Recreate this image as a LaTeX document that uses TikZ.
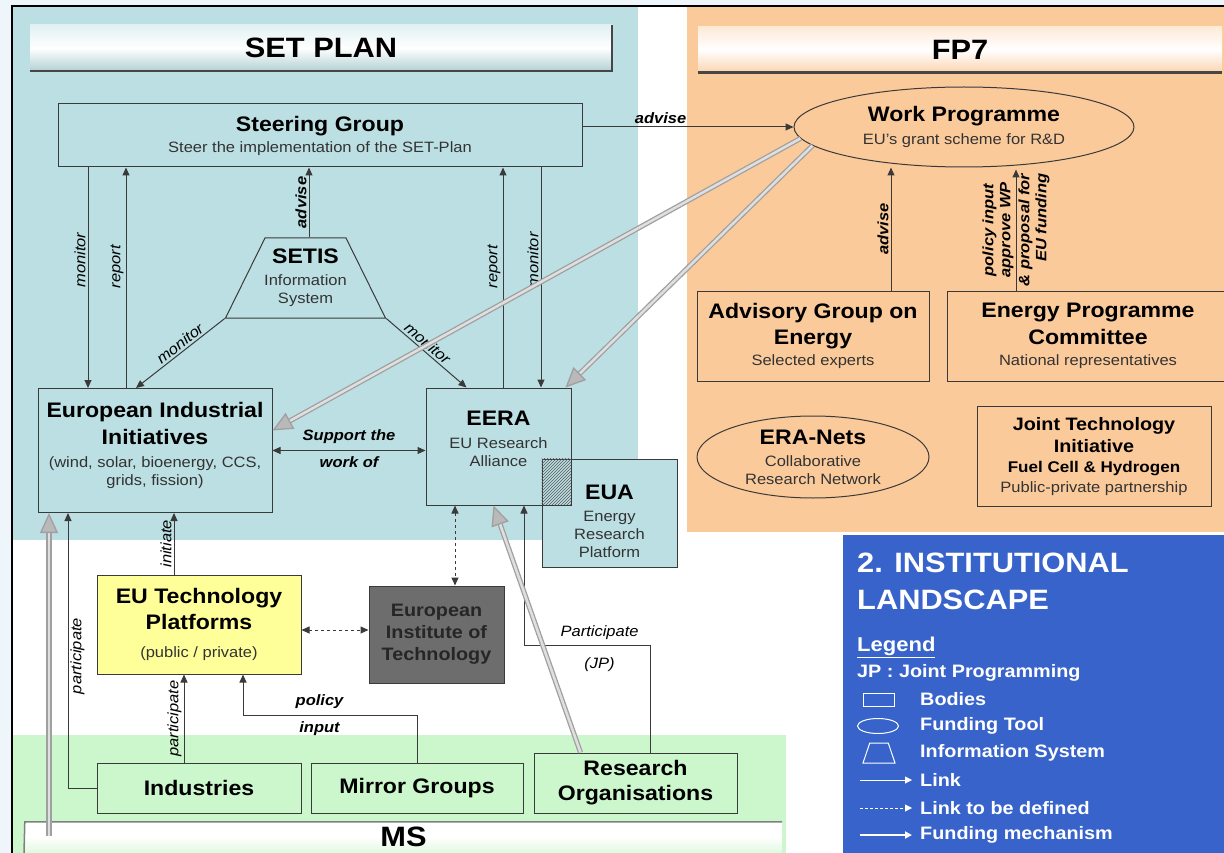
\documentclass[tikz,border=0pt]{standalone}
\usepackage{fontspec}
\setmainfont{Liberation Sans}[FakeStretch=1.1]
\usetikzlibrary{shapes.geometric,arrows.meta,patterns}

\definecolor{pagebg}{HTML}{EEF6FC}
\definecolor{setteal}{HTML}{BBDFE3}
\definecolor{fporange}{HTML}{FBCA9B}
\definecolor{msgreen}{HTML}{CCF6CC}
\definecolor{legblue}{HTML}{3763CB}
\definecolor{etpyellow}{HTML}{FFFF99}
\definecolor{eitgray}{HTML}{6D6D6D}
\definecolor{boxline}{HTML}{3A3A3A}
\definecolor{subtext}{HTML}{333333}
\definecolor{fundgray}{HTML}{A0A0A0}

\newcommand{\ttlfont}{\fontsize{28}{32}\selectfont\bfseries}
\newcommand{\legttlfont}{\fontsize{28}{37}\selectfont\bfseries}
\newcommand{\hdfont}{\fontsize{21}{25}\selectfont\bfseries}
\newcommand{\mdfont}{\fontsize{18}{22}\selectfont\bfseries}
\newcommand{\smfont}{\fontsize{15}{18}\selectfont}
\newcommand{\labfont}{\fontsize{15}{17}\selectfont\itshape}

\begin{document}
\begin{tikzpicture}[x=1pt, y=-1pt,
  body/.style={draw=boxline, line width=1pt, align=center, inner sep=0pt, font=\smfont},
  fundtool/.style={ellipse, draw=boxline, line width=1pt, inner sep=0pt},
  titlebar/.style={minimum height=46pt, inner sep=0pt, font=\ttlfont},
  barshade/.style={draw=gray!55!black, line width=2.5pt},
  link/.style={draw=boxline, line width=1pt, -{Triangle[length=8pt,width=7pt]}},
  link2/.style={link, {Triangle[length=8pt,width=7pt]}-{Triangle[length=8pt,width=7pt]}},
  dlink/.style={link2, dash pattern=on 3pt off 3pt},
  fund/.style={draw=fundgray, double=gray!25, double distance=2.5pt, line width=1.3pt,
    -{Triangle[length=20pt,width=18pt,fill=gray!55]}},
  lab/.style={font=\labfont, inner sep=2pt},
  blab/.style={font=\labfont\bfseries, inner sep=2pt},
  leg/.style={anchor=west, inner sep=0pt, text=white, font=\mdfont},
  wlink/.style={draw=white, line width=1pt, -{Triangle[length=7pt,width=7pt]}}]

\useasboundingbox (0,0) rectangle (1224,853);
\clip (0,0) rectangle (1224,853);

% backgrounds
\fill[pagebg] (0,0) rectangle (1224,853);
\fill[white] (12,6) rectangle (1224,853);
\fill[setteal] (13,7) rectangle (638,540);
\fill[fporange] (687,7) rectangle (1224,532);
\fill[msgreen] (13,735) rectangle (786,853);
\fill[legblue] (843,535) rectangle (1224,853);
\draw[black, line width=2pt] (12,853) -- (12,6) -- (1224,6);

% title bars
\node (setplan) at (321,48) [titlebar, minimum width=582pt,
  top color=setteal!45!white, bottom color=setteal!85!gray, middle color=white] {SET PLAN};
\draw[barshade] (setplan.south west) -- (setplan.south east) -- (setplan.north east);
\node (fp7) at (960,49.5) [titlebar, minimum width=524pt,
  top color=fporange!40!white, bottom color=fporange!80!white, middle color=white] {FP7};
\draw[barshade] (fp7.south west) -- (fp7.south east);
\node (ms) at (403.5,837) [titlebar, minimum width=757pt, minimum height=30pt,
  top color=white, bottom color=msgreen!60!white, middle color=white] {MS};
\draw[draw=gray, line width=1.5pt] (24,853) -- (ms.north west) -- (ms.north east);

% SET PLAN bodies
\node (sg) at (320,135.5) [body, minimum width=524pt, minimum height=63pt]
  {{\hdfont Steering Group}\\[3pt]{\smfont\color{subtext}Steer the implementation of the SET-Plan}};
\node (setis) at (305.5,278) [trapezium, draw=boxline, line width=1pt, trapezium stretches=true,
  trapezium left angle=64, trapezium right angle=64, minimum width=160pt, minimum height=80pt,
  inner sep=2pt] {};
\node (setistext) at (setis.center) [align=center, font=\smfont]
  {{\hdfont SETIS}\\[4pt]{\color{subtext}Information}\\{\color{subtext}System}};
\node (eii) at (155,450.5) [body, minimum width=234pt, minimum height=124pt]
  {{\hdfont European Industrial}\\[7pt]{\hdfont Initiatives}\\[5pt]
   {\color{subtext}(wind, solar, bioenergy, CCS,}\\{\color{subtext}grids, fission)}\\[-5pt]{}};
\node (eera) at (498.5,446.5) [body, minimum width=145pt, minimum height=117pt]
  {{\hdfont EERA}\\[5pt]{\color{subtext}EU Research}\\{\color{subtext}Alliance}\\[-2pt]{}};
\node (eua) at (609.5,513) [body, fill=setteal, minimum width=135pt, minimum height=108pt]
  {{}\\[14pt]{\hdfont EUA}\\[4pt]{\color{subtext}Energy}\\{\color{subtext}Research}\\{\color{subtext}Platform}};
\fill[pattern=north east lines, pattern color=gray!70!black] (eua.north west) rectangle (eera.south east);
\draw[draw=boxline, line width=1pt] (eera.north east) |- (eera.south west);
\node (eutp) at (199,624.5) [body, fill=etpyellow, minimum width=204pt, minimum height=99pt]
  {{\hdfont EU Technology}\\[6pt]{\hdfont Platforms}\\[10pt]{\color{subtext}(public / private)}};
\node (eit) at (436.5,634.5) [body, fill=eitgray, minimum width=135pt, minimum height=97pt,
  font=\mdfont, text=black!85] {European\\Institute of\\Technology};
\node (ind) at (199,788) [body, minimum width=204pt, minimum height=50pt] {\hdfont Industries};
\node (mirror) at (417,788) [body, minimum width=212pt, minimum height=50pt] {\hdfont Mirror Groups};
\node (resorg) at (635.5,783) [body, minimum width=203pt, minimum height=60pt]
  {{\hdfont Research}\\[7pt]{\hdfont Organisations}};

% FP7 bodies
\node (wp) at (964,127) [fundtool, minimum width=340pt, minimum height=80pt] {};
\node (wptext) at (wp.center) [align=center, font=\smfont]
  {{\hdfont Work Programme}\\[5pt]{\color{subtext}EU's grant scheme for R\&D}};
\node (adv) at (813,336) [body, minimum width=232pt, minimum height=90pt]
  {{\hdfont Advisory Group on}\\[6pt]{\hdfont Energy}\\[3pt]{\color{subtext}Selected experts}};
\node (epc) at (1088,336) [body, minimum width=282pt, minimum height=90pt]
  {{\hdfont Energy Programme}\\[6pt]{\hdfont Committee}\\[3pt]{\color{subtext}National representatives}};
\node (eranets) at (813,457) [fundtool, minimum width=232pt, minimum height=82pt] {};
\node (eranetstext) at (eranets.center) [align=center, font=\smfont]
  {{\hdfont ERA-Nets}\\[4pt]{\color{subtext}Collaborative}\\{\color{subtext}Research Network}};
\node (jti) at (1094,456) [body, minimum width=234pt, minimum height=100pt]
  {{}\\[-4pt]{\mdfont Joint Technology}\\[4pt]{\mdfont Initiative}\\[2pt]{\fontsize{15.5}{18}\selectfont\bfseries Fuel Cell \& Hydrogen}\\[2pt]
   {\color{subtext}Public-private partnership}};

% connector columns
\coordinate (xmon) at (88,0);
\coordinate (xrep) at (126,0);
\coordinate (xadv) at (309,0);
\coordinate (xrep2) at (503,0);
\coordinate (xmon2) at (541,0);
\coordinate (xpart) at (68,0);
\coordinate (xinit) at (174,0);
\coordinate (xpart2) at (184,0);
\coordinate (pin) at (243,715);
\coordinate (xdash) at (455,0);
\coordinate (ydash) at (0,630);
\coordinate (jp) at (524,645);
\coordinate (xjp) at (650,0);
\coordinate (xadv2) at (891,0);
\coordinate (xpol) at (1016,0);
\coordinate (msfund) at (49,836);

% links
\draw[link] (sg.south -| xmon) -- node[lab, pos=0.42, rotate=90, anchor=south] {monitor} (eii.north -| xmon);
\draw[link] (eii.north -| xrep) -- node[lab, pos=0.55, rotate=90, anchor=south] {report} (sg.south -| xrep);
\draw[link] (setis.top side -| xadv) -- node[blab, midway, rotate=90, anchor=south] {advise} (sg.south -| xadv);
\draw[link] (eera.north -| xrep2) -- node[lab, pos=0.55, rotate=90, anchor=south] {report} (sg.south -| xrep2);
\draw[link] (sg.south -| xmon2) -- node[lab, pos=0.42, rotate=90, anchor=south] {monitor} (eera.north -| xmon2);
\draw[link] (setis.bottom left corner) -- node[lab, sloped, above, pos=0.45] {monitor} ([xshift=-19pt]eii.north);
\draw[link] (setis.bottom right corner) -- node[lab, sloped, above, pos=0.45] {monitor} ([xshift=-32pt]eera.north);
\draw[link2] (eii.east) -- node[blab, above=4pt] {Support the} node[blab, below=4pt] {work of} (eii.east -| eera.west);
\draw[link] (eutp.north -| xinit) -- node[lab, midway, rotate=90, anchor=south] {initiate} (eii.south -| xinit);
\draw[link] (ind.west) -| node[lab, pos=0.74, rotate=90, anchor=north] {participate} (eii.south -| xpart);
\draw[link] (ind.north -| xpart2) -- node[lab, midway, rotate=90, anchor=south] {participate} (eutp.south -| xpart2);
\draw[link] (mirror.north) |- node[blab, pos=0.78, above=4pt] {policy} node[blab, pos=0.78, below=4pt] {input} (pin) -- (eutp.south -| pin);
\draw[dlink] (eutp.east |- ydash) -- (eit.west |- ydash);
\draw[dlink] (eera.south -| xdash) -- (eit.north -| xdash);
\draw[link] (resorg.north -| xjp) |- node[lab, pos=0.7, above=3pt] {Participate} node[lab, pos=0.7, below=10pt] {(JP)} (jp) -- (eera.south -| jp);
\draw[link] (wp.west -| sg.east) -- node[blab, pos=0.37, above=1pt] {advise} (wp.west);
\draw[link] (adv.north -| xadv2) -- node[blab, midway, rotate=90, anchor=south] {advise} (wp.south -| xadv2);
\draw[link] (epc.north -| xpol)
  -- node[blab, midway, rotate=90, anchor=south, align=center] {policy input\\approve WP}
     node[blab, midway, rotate=90, anchor=north, align=right] {\& proposal for\\EU funding}
  ([yshift=-2pt]wp.south -| xpol);

% funding mechanism
\draw[fund] (wp.184) -- ([yshift=20pt]eii.east);
\draw[fund] (wp.187) -- ([xshift=-6pt]eera.north east);
\draw[fund] (msfund) -- (eii.south -| msfund);
\draw[fund] ([xshift=-55pt]resorg.north) -- ([xshift=-5pt]eera.south);

% legend
\node (lgtitle) at (857,581) [anchor=west, align=left, inner sep=0pt, text=white, font=\legttlfont]
  {2. INSTITUTIONAL\\LANDSCAPE};
\node (lglegend) at (857,647) [leg, font=\fontsize{20}{24}\selectfont\bfseries] {\underline{Legend}};
\node (lgjp) at (857,673) [leg] {JP : Joint Programming};
\node (lgbodies) at (920,699) [leg] {Bodies};
\node (lgfund) at (920,726) [leg] {Funding Tool};
\node (lginfo) at (920,753) [leg] {Information System};
\node (lglink) at (920,780) [leg] {Link};
\node (lgdef) at (920,808) [leg] {Link to be defined};
\node (lgmech) at (920,835) [leg] {Funding mechanism};
\node (lgrect) at (878.5,699.5) [draw=white, line width=1pt, minimum width=31pt, minimum height=13pt, inner sep=0pt] {};
\node (lgell) at (878,726) [ellipse, draw=white, line width=1pt, minimum width=41pt, minimum height=15pt, inner sep=0pt] {};
\node (lgtrap) at (879,753) [trapezium, draw=white, line width=1pt, trapezium stretches=true,
  trapezium left angle=70, trapezium right angle=70, minimum width=32pt, minimum height=20pt, inner sep=1pt] {};
\draw[wlink] ([xshift=-60pt]lglink.west) -- ([xshift=-8pt]lglink.west);
\draw[wlink, dash pattern=on 3pt off 2pt] ([xshift=-60pt]lgdef.west) -- ([xshift=-8pt]lgdef.west);
\draw[wlink, line width=2.5pt] ([xshift=-60pt]lgmech.west) -- ([xshift=-8pt]lgmech.west);
\end{tikzpicture}
\end{document}
